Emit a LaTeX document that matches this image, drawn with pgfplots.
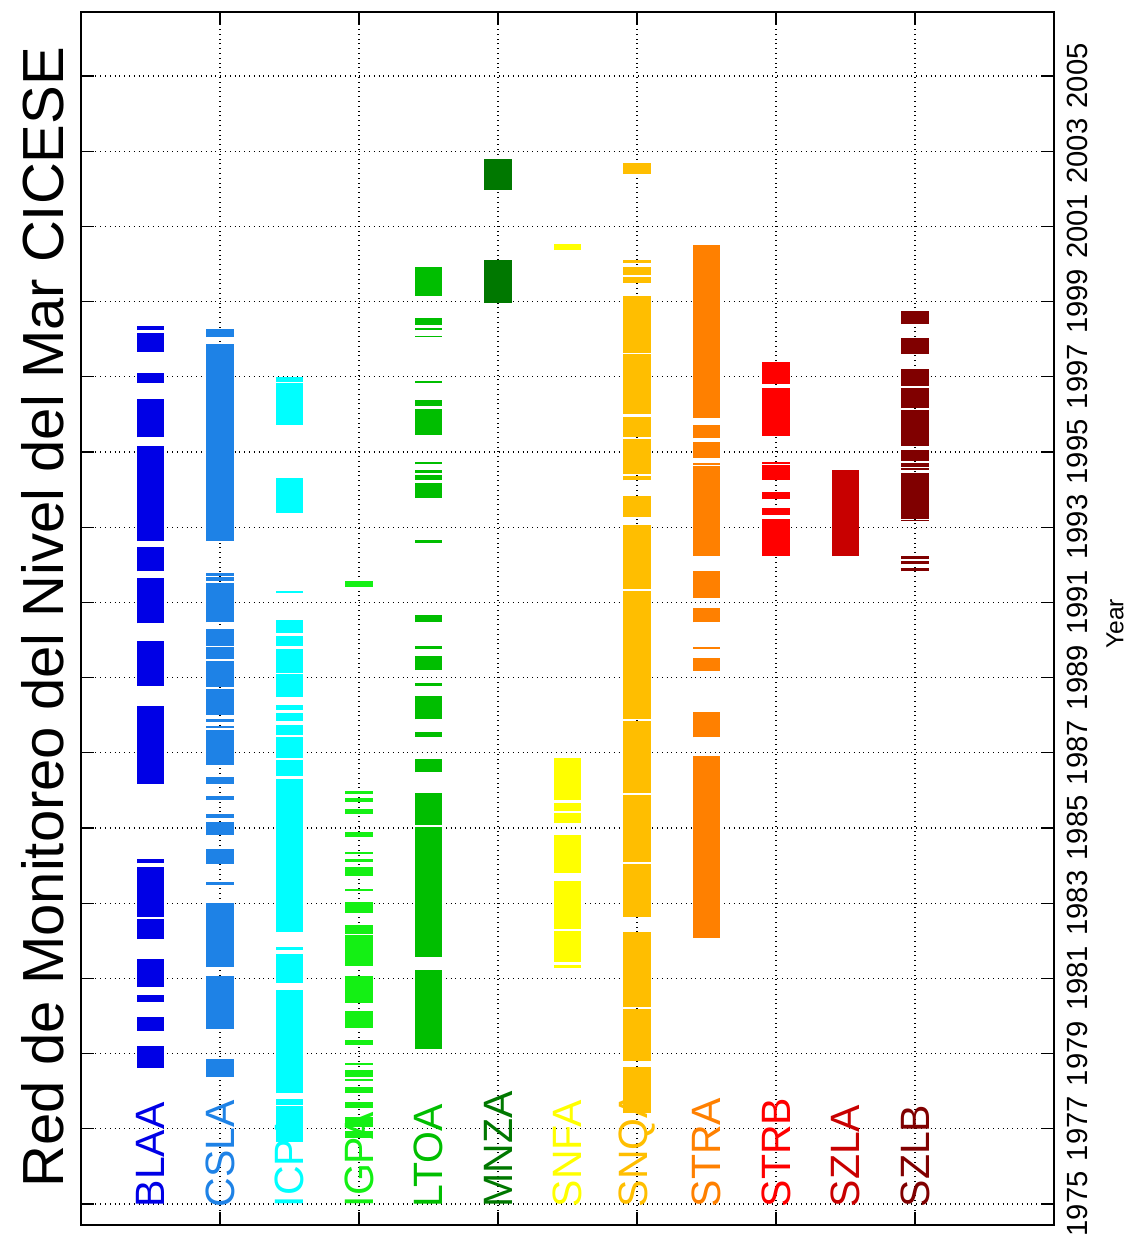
\documentclass[border=0pt]{standalone}
\usepackage{fontspec}
\setmainfont{Liberation Sans}
\usepackage{pgfplots}
\pgfplotsset{compat=1.18}
\definecolor{cBLAA}{RGB}{0,0,230}
\definecolor{cCSLA}{RGB}{30,130,230}
\definecolor{cICPA}{RGB}{0,255,255}
\definecolor{cIGPA}{RGB}{20,240,20}
\definecolor{cLTOA}{RGB}{0,190,0}
\definecolor{cMNZA}{RGB}{0,120,0}
\definecolor{cSNFA}{RGB}{255,255,0}
\definecolor{cSNQA}{RGB}{255,190,0}
\definecolor{cSTRA}{RGB}{255,128,0}
\definecolor{cSTRB}{RGB}{255,0,0}
\definecolor{cSZLA}{RGB}{200,0,0}
\definecolor{cSZLB}{RGB}{128,0,0}
\begin{document}
\begin{tikzpicture}
\begin{axis}[
  scale only axis, width=486.5pt, height=606.5pt,
  xmin=0, xmax=14, ymin=1974.44, ymax=2006.70,
  xtick={0,2,...,14}, xticklabels={},
  ytick={1975,1977,...,2005},
  tick pos=both,
  yticklabel pos=right,
  yticklabel shift=6.5pt,
  yticklabel style={font=\fontsize{14.6}{16}\selectfont, rotate=90, anchor=north, inner sep=0pt},
  /pgf/number format/assume math mode=true,
  /pgf/number format/set thousands separator={},
  grid=major, major grid style={black, dotted, line width=0.6pt},
  tick align=inside, major tick length=6.5pt, tick style={black, line width=0.6pt},
  axis line style={black, line width=0.6pt},
  unbounded coords=jump,
  clip=false,
  every axis plot/.append style={line width=13.75pt, line cap=butt},
]
% BLAA
\addplot[cBLAA] coordinates {
(1,1998.24) (1,1998.36) (1,nan)
(1,1997.67) (1,1998.16) (1,nan)
(1,1996.83) (1,1997.09) (1,nan)
(1,1995.39) (1,1996.40) (1,nan)
(1,1992.63) (1,1995.16) (1,nan)
(1,1991.82) (1,1992.47) (1,nan)
(1,1990.44) (1,1991.66) (1,nan)
(1,1988.78) (1,1989.97) (1,nan)
(1,1986.17) (1,1988.24) (1,nan)
(1,1984.06) (1,1984.18) (1,nan)
(1,1982.64) (1,1983.97) (1,nan)
(1,1982.04) (1,1982.57) (1,nan)
(1,1980.78) (1,1981.51) (1,nan)
(1,1980.38) (1,1980.56) (1,nan)
(1,1979.60) (1,1979.98) (1,nan)
(1,1978.62) (1,1979.21)
};
% CSLA
\addplot[cCSLA] coordinates {
(2,1998.05) (2,1998.26) (2,nan)
(2,1992.63) (2,1997.87) (2,nan)
(2,1991.71) (2,1991.77) (2,nan)
(2,1991.57) (2,1991.68) (2,nan)
(2,1990.47) (2,1991.52) (2,nan)
(2,1989.84) (2,1990.28) (2,nan)
(2,1989.49) (2,1989.80) (2,nan)
(2,1988.76) (2,1989.44) (2,nan)
(2,1988.01) (2,1988.70) (2,nan)
(2,1987.83) (2,1987.90) (2,nan)
(2,1987.65) (2,1987.72) (2,nan)
(2,1986.68) (2,1987.61) (2,nan)
(2,1986.17) (2,1986.36) (2,nan)
(2,1985.74) (2,1985.85) (2,nan)
(2,1985.27) (2,1985.37) (2,nan)
(2,1984.80) (2,1985.17) (2,nan)
(2,1984.04) (2,1984.43) (2,nan)
(2,1983.48) (2,1983.56) (2,nan)
(2,1981.30) (2,1983.01) (2,nan)
(2,1979.65) (2,1981.05) (2,nan)
(2,1978.37) (2,1978.86)
};
% ICPA
\addplot[cICPA] coordinates {
(3,1996.86) (3,1996.98) (3,nan)
(3,1995.72) (3,1996.83) (3,nan)
(3,1993.37) (3,1994.30) (3,nan)
(3,1991.24) (3,1991.29) (3,nan)
(3,1990.19) (3,1990.53) (3,nan)
(3,1989.84) (3,1990.11) (3,nan)
(3,1989.13) (3,1989.76) (3,nan)
(3,1988.48) (3,1989.09) (3,nan)
(3,1988.14) (3,1988.27) (3,nan)
(3,1987.85) (3,1988.05) (3,nan)
(3,1987.47) (3,1987.74) (3,nan)
(3,1986.85) (3,1987.43) (3,nan)
(3,1986.38) (3,1986.81) (3,nan)
(3,1982.23) (3,1986.31) (3,nan)
(3,1981.76) (3,1981.83) (3,nan)
(3,1980.87) (3,1981.64) (3,nan)
(3,1977.94) (3,1980.69) (3,nan)
(3,1977.63) (3,1977.78) (3,nan)
(3,1976.65) (3,1977.60)
};
% IGPA
\addplot[cIGPA] coordinates {
(4,1991.42) (4,1991.58) (4,nan)
(4,1985.90) (4,1985.97) (4,nan)
(4,1985.70) (4,1985.79) (4,nan)
(4,1985.37) (4,1985.50) (4,nan)
(4,1984.75) (4,1984.90) (4,nan)
(4,1984.30) (4,1984.37) (4,nan)
(4,1984.10) (4,1984.17) (4,nan)
(4,1983.73) (4,1983.95) (4,nan)
(4,1983.31) (4,1983.38) (4,nan)
(4,1982.75) (4,1983.04) (4,nan)
(4,1982.18) (4,1982.41) (4,nan)
(4,1981.33) (4,1982.15) (4,nan)
(4,1980.35) (4,1981.05) (4,nan)
(4,1979.67) (4,1980.13) (4,nan)
(4,1979.23) (4,1979.36) (4,nan)
(4,1978.69) (4,1978.74) (4,nan)
(4,1978.37) (4,1978.55) (4,nan)
(4,1978.28) (4,1978.32) (4,nan)
(4,1977.94) (4,1978.12) (4,nan)
(4,1977.55) (4,1977.72) (4,nan)
(4,1977.05) (4,1977.30) (4,nan)
(4,1976.75) (4,1976.95)
};
% LTOA
\addplot[cLTOA] coordinates {
(5,1999.15) (5,1999.91) (5,nan)
(5,1998.38) (5,1998.57) (5,nan)
(5,1998.23) (5,1998.29) (5,nan)
(5,1998.05) (5,1998.09) (5,nan)
(5,1996.83) (5,1996.89) (5,nan)
(5,1996.22) (5,1996.38) (5,nan)
(5,1995.45) (5,1996.14) (5,nan)
(5,1994.67) (5,1994.74) (5,nan)
(5,1994.45) (5,1994.52) (5,nan)
(5,1994.26) (5,1994.39) (5,nan)
(5,1993.77) (5,1994.17) (5,nan)
(5,1992.59) (5,1992.66) (5,nan)
(5,1990.47) (5,1990.65) (5,nan)
(5,1989.76) (5,1989.84) (5,nan)
(5,1989.20) (5,1989.56) (5,nan)
(5,1988.78) (5,1988.85) (5,nan)
(5,1987.89) (5,1988.52) (5,nan)
(5,1987.43) (5,1987.56) (5,nan)
(5,1986.48) (5,1986.83) (5,nan)
(5,1985.08) (5,1985.92) (5,nan)
(5,1981.58) (5,1985.03) (5,nan)
(5,1979.11) (5,1981.22)
};
% MNZA
\addplot[cMNZA] coordinates {
(6,2001.97) (6,2002.78) (6,nan)
(6,1998.97) (6,2000.11)
};
% SNFA
\addplot[cSNFA] coordinates {
(7,2000.37) (7,2000.53) (7,nan)
(7,1985.73) (7,1986.87) (7,nan)
(7,1985.46) (7,1985.66) (7,nan)
(7,1985.12) (7,1985.39) (7,nan)
(7,1983.81) (7,1984.81) (7,nan)
(7,1982.31) (7,1983.60) (7,nan)
(7,1981.44) (7,1982.27) (7,nan)
(7,1981.27) (7,1981.36)
};
% SNQA
\addplot[cSNQA] coordinates {
(8,2002.39) (8,2002.68) (8,nan)
(8,2000.03) (8,2000.11) (8,nan)
(8,1999.71) (8,1999.93) (8,nan)
(8,1999.50) (8,1999.66) (8,nan)
(8,1997.64) (8,1999.15) (8,nan)
(8,1996.01) (8,1997.61) (8,nan)
(8,1995.41) (8,1995.94) (8,nan)
(8,1994.41) (8,1995.34) (8,nan)
(8,1994.24) (8,1994.36) (8,nan)
(8,1993.28) (8,1993.83) (8,nan)
(8,1991.36) (8,1993.06) (8,nan)
(8,1987.89) (8,1991.31) (8,nan)
(8,1985.92) (8,1987.85) (8,nan)
(8,1984.09) (8,1985.88) (8,nan)
(8,1982.64) (8,1984.04) (8,nan)
(8,1980.23) (8,1982.24) (8,nan)
(8,1978.81) (8,1980.18) (8,nan)
(8,1977.41) (8,1978.65)
};
% STRA
\addplot[cSTRA] coordinates {
(9,1995.90) (9,2000.49) (9,nan)
(9,1995.36) (9,1995.72) (9,nan)
(9,1994.85) (9,1995.26) (9,nan)
(9,1994.65) (9,1994.70) (9,nan)
(9,1992.24) (9,1994.63) (9,nan)
(9,1991.11) (9,1991.84) (9,nan)
(9,1990.47) (9,1990.84) (9,nan)
(9,1989.76) (9,1989.82) (9,nan)
(9,1989.18) (9,1989.51) (9,nan)
(9,1987.41) (9,1988.09) (9,nan)
(9,1982.07) (9,1986.92)
};
% STRB
\addplot[cSTRB] coordinates {
(10,1996.80) (10,1997.39) (10,nan)
(10,1995.43) (10,1996.71) (10,nan)
(10,1994.67) (10,1994.74) (10,nan)
(10,1994.26) (10,1994.64) (10,nan)
(10,1993.74) (10,1993.93) (10,nan)
(10,1993.32) (10,1993.50) (10,nan)
(10,1992.23) (10,1993.22)
};
% SZLA
\addplot[cSZLA] coordinates {
(11,1992.23) (11,1994.52)
};
% SZLB
\addplot[cSZLB] coordinates {
(12,1998.40) (12,1998.76) (12,nan)
(12,1997.61) (12,1998.02) (12,nan)
(12,1996.76) (12,1997.20) (12,nan)
(12,1996.16) (12,1996.71) (12,nan)
(12,1995.17) (12,1996.12) (12,nan)
(12,1994.76) (12,1995.05) (12,nan)
(12,1994.61) (12,1994.70) (12,nan)
(12,1994.52) (12,1994.56) (12,nan)
(12,1993.21) (12,1994.43) (12,nan)
(12,1993.16) (12,1993.19) (12,nan)
(12,1992.15) (12,1992.23) (12,nan)
(12,1992.01) (12,1992.10) (12,nan)
(12,1991.82) (12,1991.91)
};
% station labels
\begin{scope}[every node/.style={rotate=90, anchor=west, inner sep=0pt, font=\fontsize{20.5}{22}\selectfont}]
\node[text=cBLAA] at (axis cs:1,1974.9) {BLAA};
\node[text=cCSLA] at (axis cs:2,1974.9) {CSLA};
\node[text=cICPA] at (axis cs:3,1974.9) {ICPA};
\node[text=cIGPA] at (axis cs:4,1974.9) {IGPA};
\node[text=cLTOA] at (axis cs:5,1974.9) {LTOA};
\node[text=cMNZA] at (axis cs:6,1974.9) {MNZA};
\node[text=cSNFA] at (axis cs:7,1974.9) {SNFA};
\node[text=cSNQA] at (axis cs:8,1974.9) {SNQA};
\node[text=cSTRA] at (axis cs:9,1974.9) {STRA};
\node[text=cSTRB] at (axis cs:10,1974.9) {STRB};
\node[text=cSZLA] at (axis cs:11,1974.9) {SZLA};
\node[text=cSZLB] at (axis cs:12,1974.9) {SZLB};
\end{scope}
\node[rotate=90, anchor=base, inner sep=0pt, font=\fontsize{29}{31}\selectfont] at ([xshift=-8.5pt]rel axis cs:0,0.501) {Red de Monitoreo del Nivel del Mar CICESE};
\node[rotate=90, anchor=center, inner sep=0pt, font=\fontsize{12.3}{14}\selectfont] at ([xshift=30.5pt]rel axis cs:1,0.4955) {Year};
\end{axis}
\pgfresetboundingbox
\path ([shift={(-40.5pt,-9pt)}]current axis.south west) rectangle ([shift={(36.5pt,6pt)}]current axis.north east);
\end{tikzpicture}
\end{document}
